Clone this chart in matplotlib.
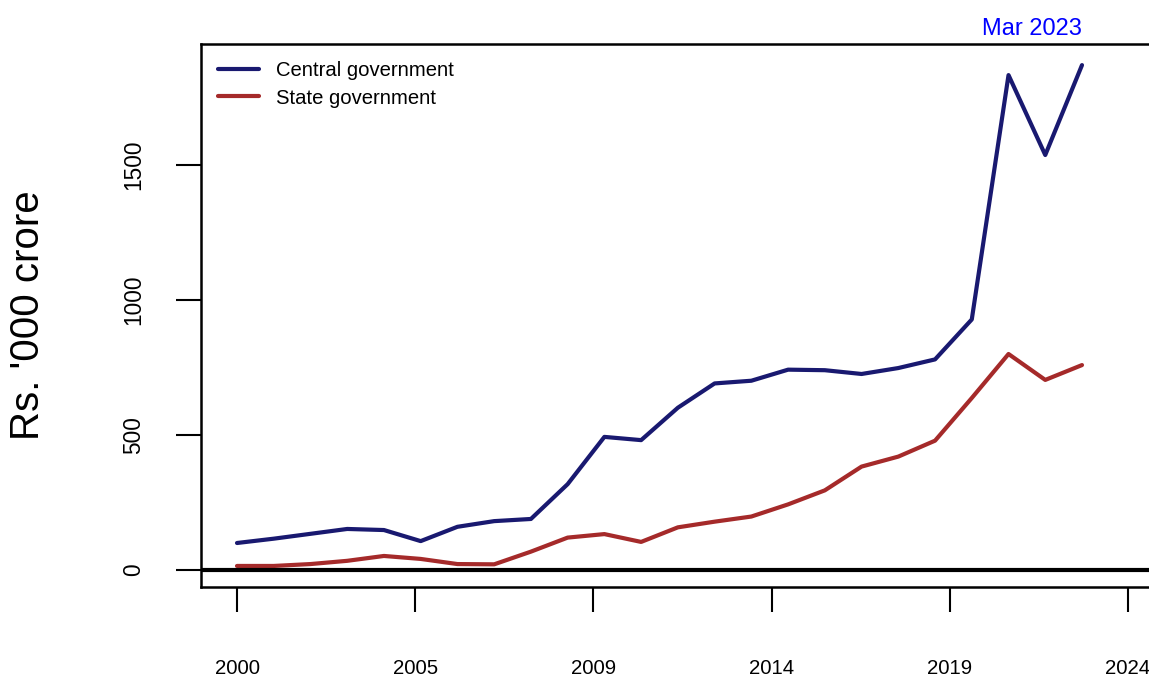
#!/usr/bin/env python3
# -*- coding: utf-8 -*-
"""Central vs state government series, R base-graphics look."""

import matplotlib
matplotlib.use("Agg")
import matplotlib.pyplot as plt

plt.rcParams['font.family'] = ['Liberation Sans', 'DejaVu Sans']

# annual observations, March of each year
years = list(range(2000, 2024))
central = [100, 116, 134, 152, 148, 107, 160, 181, 189, 318, 493, 481,
           601, 691, 701, 742, 740, 726, 748, 780, 928, 1833, 1537, 1870]
state = [15, 15, 22, 34, 52, 41, 22, 21, 68, 120, 133, 104,
         158, 179, 198, 243, 295, 383, 420, 479, 637, 800, 704, 759]

series_names = ['Central government', 'State government']
series_colors = ['#191970', '#A52A2A']
tick_labels = ['2000', '2005', '2009', '2014', '2019', '2024']
last_label = 'Mar 2023'

x = [y + 2 / 12 for y in years]

W, H = 1149, 678
fig = plt.figure(figsize=(W / 100, H / 100), dpi=100)
left, right, top, bottom = 201, 1165, 44, 587
ax = fig.add_axes([left / W, 1 - bottom / H, (right - left) / W, (bottom - top) / H])

for vals, name, col in zip([central, state], series_names, series_colors):
    ax.plot(x, vals, color=col, lw=3.0, label=name, solid_capstyle='round',
            solid_joinstyle='round')

ax.axhline(0, color='black', lw=3)

px_per_year = (1082 - 237) / 23
x0 = x[0]
ax.set_xlim(x0 - (237 - left) / px_per_year, x0 + (right - 237) / px_per_year)
px_per_unit = (570 - 165) / 1500
ax.set_ylim(-(587 - 570) / px_per_unit, (570 - 44) / px_per_unit)

step = 178.2 / px_per_year
ax.set_xticks([x0 + k * step for k in range(len(tick_labels))])
ax.set_xticklabels(tick_labels)
ax.set_yticks([0, 500, 1000, 1500])
ax.set_yticklabels(['0', '500', '1000', '1500'], rotation=90, va='center')

ax.tick_params(axis='x', length=18, width=1.5, pad=34, labelsize=14.7)
ax.tick_params(axis='y', length=18, width=1.5, pad=22, labelsize=16.3)

ax.spines['right'].set_visible(False)
for s in ['left', 'top', 'bottom']:
    ax.spines[s].set_linewidth(1.8)

ax.legend(loc='upper left', bbox_to_anchor=(17 / (right - left), 1 - 17 / (bottom - top)),
          frameon=False, fontsize=14.6, handlelength=2.0, handletextpad=0.85,
          borderpad=0, borderaxespad=0, labelspacing=0.42)

ax.annotate(last_label, xy=(x[-1], 1), xycoords=('data', 'axes fraction'),
            xytext=(0, 3), textcoords='offset points', ha='right', va='bottom',
            color='blue', fontsize=17)

fig.text(28 / W, 1 - 315 / H, "Rs. '000 crore", rotation=90, ha='center',
         va='center', fontsize=29)

fig.savefig('out.png', dpi=100, facecolor='white')
